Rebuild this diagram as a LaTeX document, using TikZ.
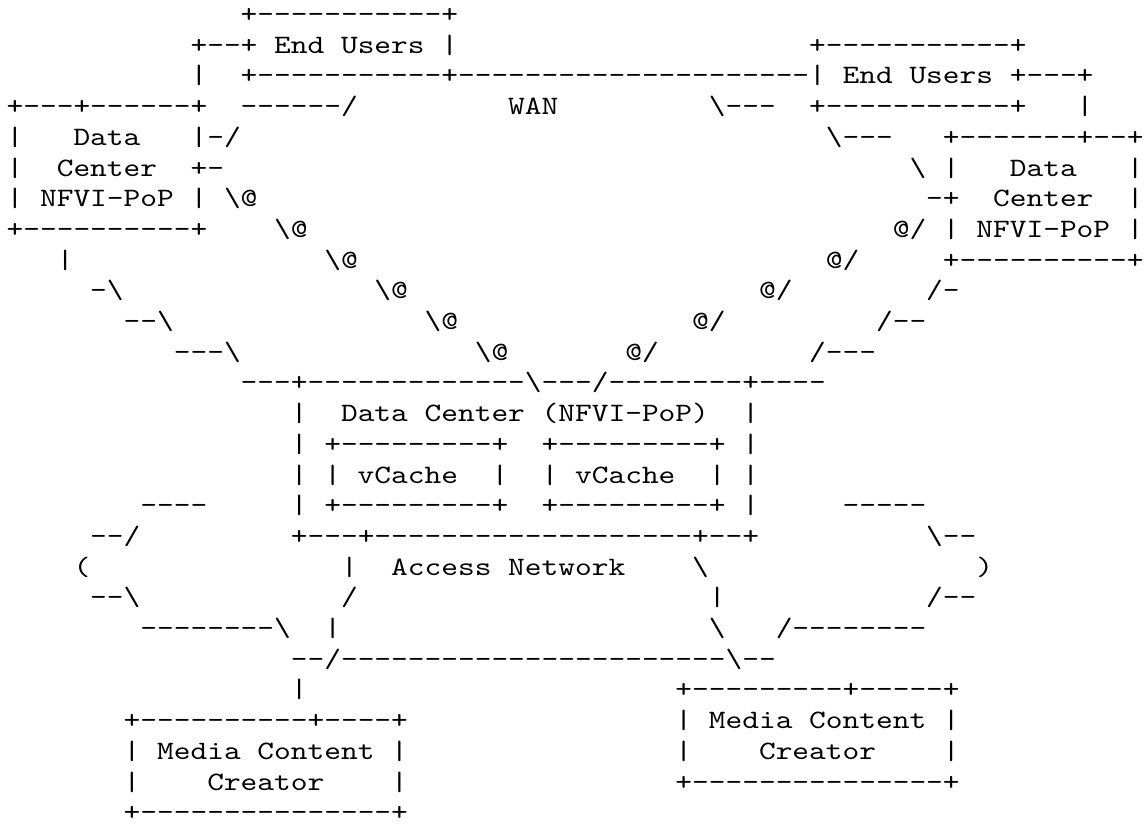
\documentclass[tikz,border=0pt]{standalone}
\usepackage{fontspec}
\newfontfamily\asciifont{lmmono10-regular.otf}[FakeStretch=1.2]
\newcommand{\bs}{\textbackslash}
\tikzset{
	art/.style={inner sep=0pt, outer sep=0pt, anchor=base west, text depth=0pt,
		font={\asciifont\fontsize{26.54pt}{30pt}\selectfont\spaceskip=16.72pt\xspaceskip=16.72pt}}
}
% one piece of a text row: name, row, column, text
\newcommand{\seg}[4]{\node[art] (#1) at ({6.64+16.72*#3},{22.5+30.7*#2}) {#4};}
\begin{document}
\begin{tikzpicture}[x=1pt,y=-1pt]
		\fill[white] (0,0) rectangle (1144,827);
		\useasboundingbox (0,0) rectangle (1144,827);
		
		% end users and WAN
		\seg{r0a}{0}{14}{+-----------+}
		\seg{r1a}{1}{11}{+--+ End Users |}
		\seg{r1b}{1}{48}{+-----------+}
		\seg{r2a}{2}{11}{|}
		\seg{r2b}{2}{14}{+-----------+---------------------| End Users +---+}
		\seg{r3a}{3}{0}{+---+------+}
		\seg{r3b}{3}{14}{------/}
		\seg{r3c}{3}{30}{WAN}
		\seg{r3d}{3}{42}{\bs---}
		\seg{r3e}{3}{48}{+-----------+}
		\seg{r3f}{3}{64}{|}
		
		% data centers at the sides
		\seg{r4a}{4}{0}{|}
		\seg{r4b}{4}{4}{Data}
		\seg{r4c}{4}{11}{|-/}
		\seg{r4d}{4}{49}{\bs---}
		\seg{r4e}{4}{56}{+-------+--+}
		\seg{r5a}{5}{0}{|}
		\seg{r5b}{5}{3}{Center}
		\seg{r5c}{5}{11}{+-}
		\seg{r5d}{5}{54}{\bs{} |}
		\seg{r5e}{5}{60}{Data}
		\seg{r5f}{5}{67}{|}
		\seg{r6a}{6}{0}{| NFVI-PoP | \bs@}
		\seg{r6b}{6}{55}{-+}
		\seg{r6c}{6}{59}{Center}
		\seg{r6d}{6}{67}{|}
		\seg{r7a}{7}{0}{+----------+}
		\seg{r7b}{7}{16}{\bs@}
		\seg{r7c}{7}{53}{@/ | NFVI-PoP |}
		\seg{r8a}{8}{3}{|}
		\seg{r8b}{8}{19}{\bs@}
		\seg{r8c}{8}{49}{@/}
		\seg{r8d}{8}{56}{+----------+}
		
		% links down to the middle
		\seg{r9a}{9}{5}{-\bs}
		\seg{r9b}{9}{22}{\bs@}
		\seg{r9c}{9}{45}{@/}
		\seg{r9d}{9}{55}{/-}
		\seg{r10a}{10}{7}{--\bs}
		\seg{r10b}{10}{25}{\bs@}
		\seg{r10c}{10}{41}{@/}
		\seg{r10d}{10}{52}{/--}
		\seg{r11a}{11}{10}{---\bs}
		\seg{r11b}{11}{28}{\bs@}
		\seg{r11c}{11}{37}{@/}
		\seg{r11d}{11}{48}{/---}
		\seg{r12a}{12}{14}{---+-------------\bs---/--------+----}
		
		% data center with the caches
		\seg{r13a}{13}{17}{|}
		\seg{r13b}{13}{20}{Data Center (NFVI-PoP)}
		\seg{r13c}{13}{44}{|}
		\seg{r14a}{14}{17}{| +---------+}
		\seg{r14b}{14}{32}{+---------+ |}
		\seg{r15a}{15}{17}{| | vCache}
		\seg{r15b}{15}{29}{|}
		\seg{r15c}{15}{32}{| vCache}
		\seg{r15d}{15}{42}{| |}
		\seg{r16a}{16}{8}{----}
		\seg{r16b}{16}{17}{| +---------+}
		\seg{r16c}{16}{32}{+---------+ |}
		\seg{r16d}{16}{50}{-----}
		
		% access network cloud
		\seg{r17a}{17}{5}{--/}
		\seg{r17b}{17}{17}{+---+-------------------+--+}
		\seg{r17c}{17}{55}{\bs--}
		\seg{r18a}{18}{4}{(}
		\seg{r18b}{18}{20}{|}
		\seg{r18c}{18}{23}{Access Network}
		\seg{r18d}{18}{41}{\bs}
		\seg{r18e}{18}{58}{)}
		\seg{r19a}{19}{5}{--\bs}
		\seg{r19b}{19}{20}{/}
		\seg{r19c}{19}{42}{|}
		\seg{r19d}{19}{55}{/--}
		\seg{r20a}{20}{8}{--------\bs}
		\seg{r20b}{20}{19}{|}
		\seg{r20c}{20}{42}{\bs}
		\seg{r20d}{20}{46}{/--------}
		\seg{r21a}{21}{17}{--/-----------------------\bs--}
		
		% media content creators
		\seg{r22a}{22}{17}{|}
		\seg{r22b}{22}{40}{+---------+-----+}
		\seg{r23a}{23}{7}{+----------+----+}
		\seg{r23b}{23}{40}{| Media Content |}
		\seg{r24a}{24}{7}{| Media Content |}
		\seg{r24b}{24}{40}{|}
		\seg{r24c}{24}{45}{Creator}
		\seg{r24d}{24}{56}{|}
		\seg{r25a}{25}{7}{|}
		\seg{r25b}{25}{12}{Creator}
		\seg{r25c}{25}{23}{|}
		\seg{r25d}{25}{40}{+---------------+}
		\seg{r26a}{26}{7}{+---------------+}
		
	\end{tikzpicture}
\end{document}
